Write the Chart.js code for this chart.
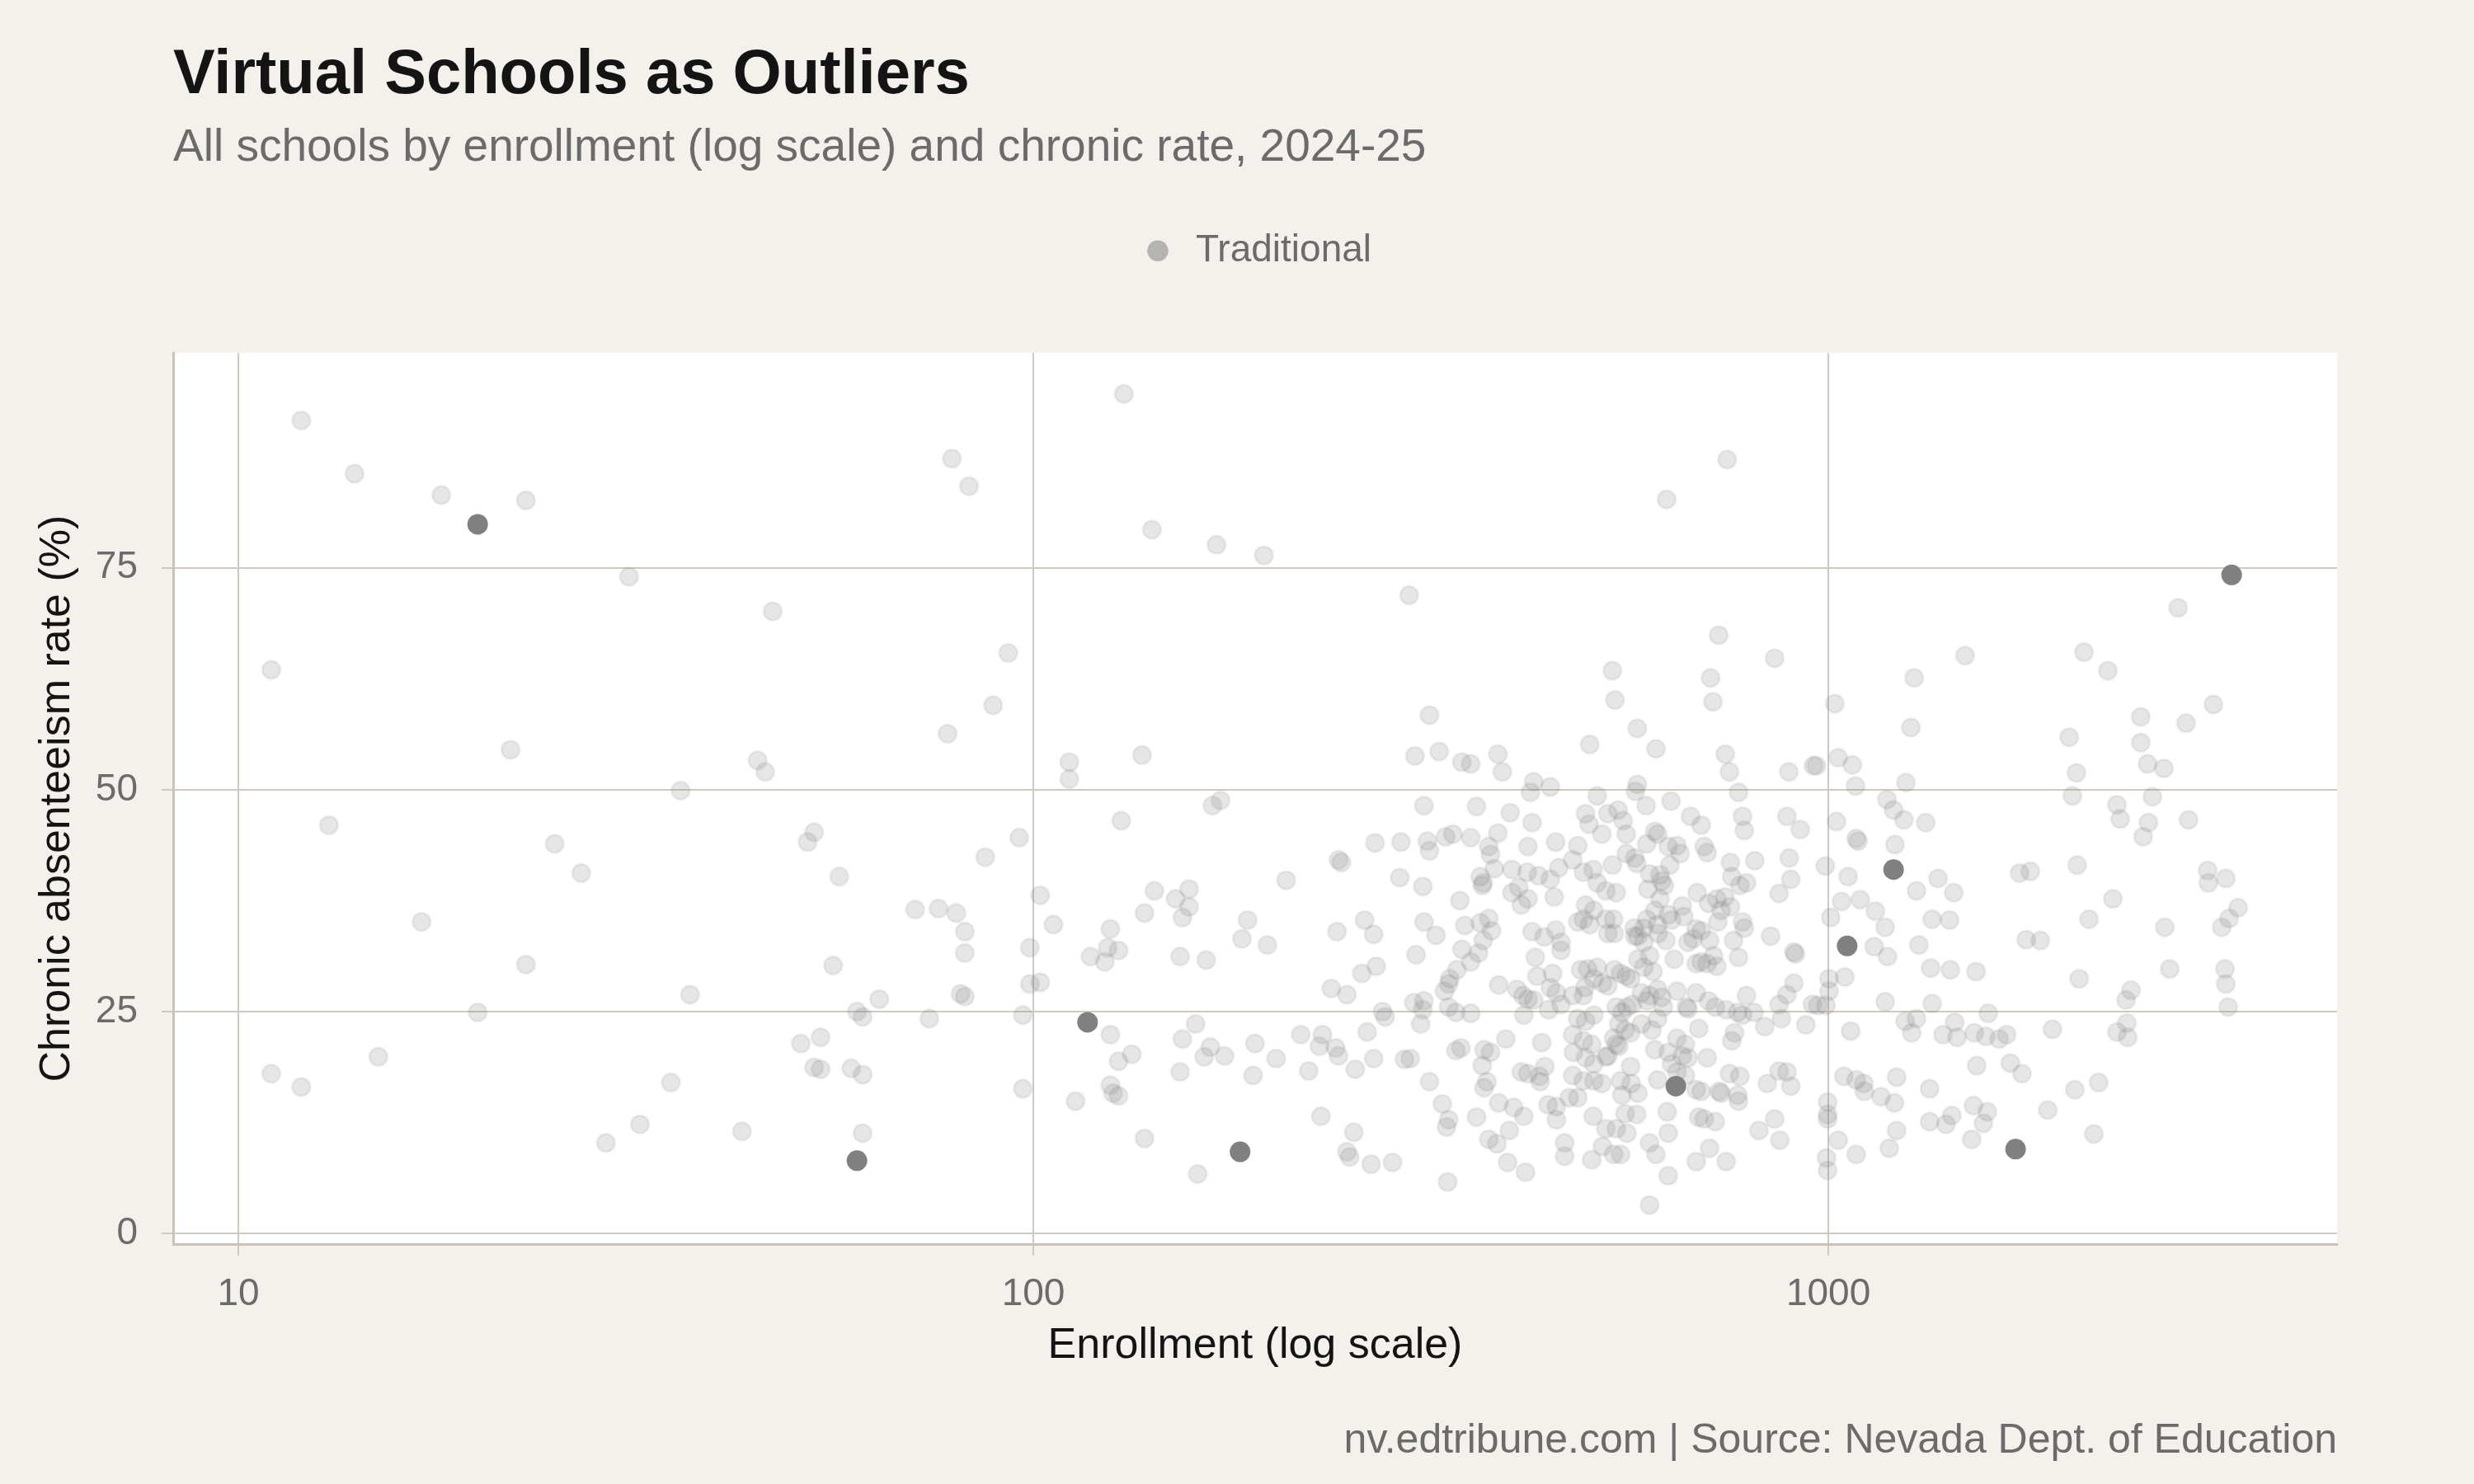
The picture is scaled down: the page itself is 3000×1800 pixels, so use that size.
<!DOCTYPE html>
<html>
<head>
<meta charset="utf-8">
<title>Virtual Schools as Outliers</title>
<script src="https://cdn.jsdelivr.net/npm/chart.js@4.4.1/dist/chart.umd.min.js"></script>
<style>
  html, body { margin: 0; padding: 0; background: #f4f1ec; }
  canvas { display: block; }
</style>
</head>
<body>
<canvas id="chart" width="3000" height="1800"></canvas>
<script>
// Virtual schools (highlighted, dark points)
const virtualEnrollment = [20, 60, 117, 182, 643, 1056, 1208, 1720, 3216];
const virtualRate = [79.9, 8.2, 23.8, 9.2, 16.6, 32.4, 41.0, 9.5, 74.2];

// Traditional schools (light points)
const tradEnrollment = [
  11, 11, 12, 12, 13, 14, 15, 17, 18, 20,
  22, 23, 23, 25, 27, 29, 31, 32, 35, 36,
  37, 43, 45, 46, 47, 51, 52, 53, 53, 54,
  54, 56, 57, 59, 60, 61, 61, 61, 64, 71,
  74, 76, 78, 79, 80, 82, 82, 81, 82, 83,
  87, 89, 93, 96, 97, 97, 99, 99, 102, 102,
  106, 111, 111, 113, 118, 123, 124, 125, 125, 125,
  126, 128, 128, 128, 129, 130, 133, 137, 138, 138,
  141, 142, 151, 153, 153, 154, 154, 157, 157, 160,
  161, 164, 165, 167, 168, 170, 172, 174, 183, 186,
  189, 190, 195, 197, 202, 208, 217, 222, 230, 231, 229,
  297, 315, 302, 324, 346, 355, 384, 389, 426, 422,
  447, 310, 361, 398, 424, 269, 290, 313, 315, 330,
  337, 355, 384, 374, 376, 419, 454, 242, 244, 289,
  309, 344, 365, 367, 368, 380, 400, 418, 432, 447,
  458, 400, 408, 411, 419, 452, 241, 261, 268, 310,
  321, 349, 365, 374, 377, 368, 346, 363, 355, 303,
  424, 439, 454, 461, 461, 428, 270, 259, 237, 248,
  341, 334, 333, 329, 385, 430, 450, 447, 455, 406,
  413, 419, 426, 301, 310, 309, 275, 277, 333, 340,
  355, 414, 445, 461, 263, 307, 240, 242, 268, 254,
  293, 298, 340, 345, 369, 376, 367, 393, 436, 315,
  372, 369, 411, 419, 440, 434, 433, 253, 327, 333,
  331, 361, 385, 402, 414, 444, 455, 397, 374, 383,
  455, 466, 466, 248, 250, 266, 283, 332, 395, 416,
  535, 539, 575, 501, 607, 512, 575, 572, 746, 626,
  728, 856, 711, 716, 742, 751, 771, 892, 958, 634,
  590, 495, 544, 528, 671, 780, 887, 500, 519, 552,
  557, 605, 610, 692, 784, 922, 698, 704, 753, 756,
  774, 789, 808, 893, 897, 867, 484, 477, 492, 506,
  512, 525, 541, 535, 557, 571, 574, 591, 629, 645,
  651, 632, 596, 614, 617, 622, 593, 614, 684, 707,
  724, 741, 753, 733, 726, 655, 658, 605, 629, 635,
  610, 591, 586, 571, 495, 507, 492, 484, 501, 525,
  537, 528, 538, 570, 576, 586, 611, 625, 682, 692,
  676, 666, 709, 760, 771, 784, 780, 846, 905, 909,
  640, 596, 602, 586, 576, 682, 692, 704, 724, 717,
  488, 498, 512, 507, 520, 528, 538, 548, 557, 564,
  494, 492, 477, 582, 596, 610, 617, 645, 682, 707,
  721, 789, 769, 744, 780, 806, 832, 873, 867, 887,
  905, 937, 955, 541, 550, 558, 567, 545, 555, 564,
  537, 541, 545, 528, 582, 600, 610, 620, 591, 663,
  666, 484, 495, 507, 477, 492, 504, 478, 495, 507,
  477, 492, 507, 519, 472, 484, 525, 605, 629, 645,
  661, 655, 666, 635, 645, 661, 704, 751, 774, 610,
  564, 548, 565, 576, 550, 682, 692, 729, 733, 769,
  771, 838, 867, 887, 897, 506, 555, 574, 525, 541,
  558, 520, 537, 548, 504, 627, 629, 687, 698, 721,
  596, 607, 682, 709, 744, 629, 596, 818, 856, 869,
  687, 762, 756,
  966, 1019, 1029, 1072, 1082, 1252, 1270, 1282, 1486, 2097,
  2247, 2472, 2818, 3051, 2754, 2009, 2472, 2521, 2643, 2052,
  1185, 1208, 2028, 2307, 2557, 1024, 1084, 1090, 1213, 1245,
  1326, 2329, 2527, 2839, 2489, 991, 1059, 1374, 1291, 1438,
  1039, 1097, 1146, 1007, 1179, 1351, 1421, 1740, 1795, 2056,
  2280, 2128, 3000, 3006, 3162, 2650, 3277, 3192, 3125, 1142,
  1187, 1300, 1774, 1848, 1345, 1424, 1534, 2068, 2688, 3155,
  3162, 3184, 2403, 2369, 1002, 1002, 993, 970, 1049, 1179,
  1351, 1589, 1914, 1249, 1291, 1273, 1067, 1442, 1394, 1452,
  1526, 1578, 1640, 1676, 2307, 2374, 2380, 1537, 1694, 1752,
  1046, 1084, 1108, 1110, 1165, 1211, 1219, 1341, 2042, 2188,
  998, 998, 998, 1523, 1585, 1567, 1341, 1406, 1430, 1888,
  1219, 1029, 995, 998, 1084, 1193, 1515, 2158
];
const tradRate = [
  63.5, 18.0, 91.6, 16.5, 46.0, 85.6, 19.9, 35.1, 83.2, 24.9,
  54.5, 82.6, 30.3, 43.9, 40.6, 10.2, 74.0, 12.3, 17.0, 49.9,
  26.9, 11.5, 53.3, 52.0, 70.1, 21.4, 44.1, 45.2, 18.7, 22.1,
  18.5, 30.2, 40.2, 18.6, 25.0, 24.4, 17.9, 11.3, 26.4, 36.5,
  24.2, 36.6, 56.3, 87.3, 36.1, 34.0, 31.6, 27.0, 26.7, 84.2,
  42.4, 59.5, 65.4, 44.6, 24.6, 16.3, 32.2, 28.1, 38.1, 28.3,
  34.8, 53.1, 51.2, 14.9, 31.2, 30.6, 32.2, 34.3, 22.4, 16.7,
  15.8, 31.9, 19.4, 15.5, 46.5, 94.6, 20.2, 53.9, 36.1, 10.7,
  79.3, 38.6, 37.7, 31.2, 18.2, 35.6, 21.9, 38.8, 36.8, 23.6,
  6.7, 19.9, 30.8, 21.0, 48.2, 77.6, 48.8, 20.0, 33.2, 35.3,
  17.8, 21.4, 76.4, 32.5, 19.7, 39.8, 22.4, 18.3, 13.2, 22.4, 21.1,
  71.9, 58.4, 53.8, 54.3, 53.1, 52.9, 54.0, 52.0, 50.9, 49.7,
  50.3, 48.2, 48.1, 47.4, 46.3, 44.0, 44.1, 44.2, 43.1, 44.7,
  45.0, 44.6, 45.1, 43.6, 42.7, 43.6, 44.1, 42.1, 41.8, 40.1,
  39.1, 37.5, 40.2, 39.2, 39.5, 41.1, 41.0, 40.7, 40.3, 39.9,
  41.2, 38.4, 39.0, 37.0, 37.7, 37.9, 34.0, 35.3, 33.7, 35.1,
  33.6, 34.7, 35.0, 35.5, 34.1, 33.0, 32.0, 31.6, 30.6, 31.4,
  34.0, 33.4, 34.2, 32.8, 31.9, 31.1, 30.1, 29.3, 27.6, 26.9,
  29.7, 28.7, 28.1, 27.3, 28.0, 29.0, 29.3, 27.7, 27.1, 27.5,
  26.8, 26.4, 26.3, 26.0, 26.2, 25.2, 25.0, 24.4, 25.5, 24.9,
  24.8, 24.6, 25.2, 25.8, 22.7, 23.6, 20.9, 20.0, 19.7, 18.5,
  19.6, 19.7, 20.6, 20.9, 20.7, 20.4, 18.9, 21.9, 21.5, 17.1,
  17.1, 16.4, 18.2, 18.0, 18.8, 17.1, 17.7, 11.4, 14.6, 12.8,
  12.0, 13.1, 14.7, 14.2, 13.2, 14.5, 14.3, 11.6, 10.6, 10.1,
  12.8, 10.2, 8.7, 9.2, 8.6, 7.8, 8.0, 5.8, 8.0, 6.9,
  63.4, 60.1, 56.9, 55.1, 54.6, 49.3, 50.6, 49.8, 87.2, 82.7,
  67.4, 64.8, 62.6, 59.9, 54.0, 52.0, 49.7, 52.0, 52.7, 48.7,
  48.2, 47.3, 47.7, 47.3, 47.0, 47.0, 47.0, 46.1, 45.0, 46.5,
  45.0, 45.3, 45.0, 46.0, 45.4, 45.5, 43.6, 42.9, 41.8, 40.2,
  39.2, 39.5, 42.0, 42.3, 39.9, 38.3, 43.7, 42.1, 40.7, 41.0,
  39.5, 38.6, 38.4, 41.5, 42.8, 42.3, 41.7, 43.9, 43.6, 43.7,
  42.8, 41.5, 40.5, 40.4, 39.7, 39.2, 38.8, 37.7, 38.4, 37.2,
  37.7, 37.9, 36.8, 36.4, 35.1, 36.9, 35.7, 36.4, 35.9, 35.3,
  34.8, 35.4, 34.4, 33.5, 37.0, 36.4, 35.4, 35.1, 34.8, 35.4,
  35.4, 33.8, 33.8, 34.4, 33.5, 32.8, 33.8, 33.0, 34.3, 34.1,
  33.2, 32.8, 33.0, 33.0, 31.1, 34.4, 35.1, 33.5, 31.7, 31.5,
  30.9, 31.3, 29.5, 30.0, 30.9, 30.4, 30.6, 30.4, 30.1, 31.3,
  29.7, 29.8, 30.0, 28.7, 28.2, 27.9, 29.7, 29.3, 29.0, 28.7,
  27.7, 26.8, 26.8, 27.1, 26.8, 27.5, 26.6, 27.3, 27.1, 26.2,
  25.5, 26.8, 24.9, 25.2, 24.6, 24.9, 23.3, 24.2, 25.8, 26.9,
  28.2, 23.5, 25.8, 25.5, 24.9, 25.5, 25.8, 23.6, 22.9, 22.6,
  22.0, 21.3, 21.1, 20.0, 23.6, 22.9, 24.2, 25.5, 26.2, 25.5,
  25.3, 24.2, 23.9, 24.6, 22.4, 21.7, 21.3, 20.4, 19.8, 19.1,
  17.8, 17.2, 17.2, 16.9, 15.3, 15.3, 19.9, 20.7, 20.4, 22.0,
  21.3, 20.0, 19.8, 19.1, 18.2, 17.8, 19.8, 18.0, 17.7, 17.3,
  18.8, 17.2, 16.9, 15.8, 15.6, 16.2, 16.0, 16.0, 15.8, 15.6,
  14.9, 16.9, 18.3, 18.2, 16.6, 13.2, 13.5, 13.4, 11.8, 11.8,
  11.3, 9.8, 8.9, 8.9, 8.3, 13.7, 11.3, 13.1, 12.9, 12.6,
  10.2, 8.9, 8.1, 9.6, 8.1, 6.5, 3.2, 11.6, 12.9, 10.5,
  23.1, 22.6, 21.7,
  52.7, 59.7, 53.6, 52.8, 50.4, 50.8, 57.0, 62.6, 65.1, 65.5,
  63.4, 58.2, 57.5, 59.6, 70.5, 55.9, 55.3, 52.9, 52.4, 51.9,
  48.9, 47.7, 49.3, 48.3, 49.2, 46.4, 44.5, 44.2, 43.8, 46.6,
  46.3, 46.7, 46.3, 46.6, 44.7, 41.4, 40.2, 40.0, 38.6, 38.4,
  37.4, 37.6, 36.3, 35.6, 34.5, 35.4, 35.3, 40.6, 40.8, 41.5,
  37.7, 35.4, 40.9, 39.5, 40.0, 34.5, 36.7, 35.5, 34.5, 32.3,
  31.2, 32.5, 33.1, 33.0, 29.9, 29.7, 29.5, 28.7, 29.8, 29.8,
  28.1, 25.5, 27.4, 26.3, 28.7, 27.3, 25.7, 25.7, 28.9, 26.1,
  25.9, 24.8, 23.0, 23.9, 24.2, 22.6, 22.8, 23.8, 22.4, 22.1,
  22.6, 22.2, 21.9, 22.4, 22.7, 23.7, 22.1, 18.9, 19.2, 18.0,
  17.7, 17.3, 16.9, 16.0, 15.4, 14.7, 17.6, 16.3, 16.2, 17.0,
  14.8, 13.4, 12.9, 14.4, 13.7, 12.4, 12.6, 12.3, 13.3, 13.9,
  11.6, 10.5, 8.5, 7.1, 8.9, 9.6, 10.6, 11.2
];

// Axis ticks
const xTicks = [10, 100, 1000];
const yTicks = [0, 25, 50, 75];

const pageBg = '#f4f1ec';
const gridColor = '#cfc9c0';
const axisColor = '#c9c2b8';
const mutedText = '#6b6b6b';
const darkText = '#141414';

Chart.defaults.font.family = '"Liberation Sans", Arial, Helvetica, sans-serif';

const tradPoints = tradEnrollment.map((x, i) => ({ x: x, y: tradRate[i] }));
const virtualPoints = virtualEnrollment.map((x, i) => ({ x: x, y: virtualRate[i] }));

// Page background, white panel and source caption
const backdrop = {
    id: 'backdrop',
    beforeDraw(chart) {
        const { ctx, chartArea } = chart;
        ctx.save();
        ctx.fillStyle = pageBg;
        ctx.fillRect(0, 0, chart.width, chart.height);
        ctx.fillStyle = '#ffffff';
        ctx.fillRect(chartArea.left, chartArea.top, chartArea.right - chartArea.left, chartArea.bottom - chartArea.top);
        ctx.restore();
    },
    afterDraw(chart) {
        const { ctx, chartArea } = chart;
        ctx.save();
        ctx.font = '50px ' + Chart.defaults.font.family;
        ctx.fillStyle = mutedText;
        ctx.textAlign = 'right';
        ctx.textBaseline = 'alphabetic';
        ctx.fillText('nv.edtribune.com | Source: Nevada Dept. of Education', chartArea.right, 1762);
        ctx.restore();
    }
};

new Chart(document.getElementById('chart'), {
    type: 'scatter',
    data: {
        datasets: [
            {
                label: 'Traditional',
                data: tradPoints,
                backgroundColor: 'rgba(128, 128, 128, 0.2)',
                borderColor: 'rgba(128, 128, 128, 0.1)',
                borderWidth: 3,
                pointRadius: 11,
                order: 2
            },
            {
                label: 'Virtual',
                data: virtualPoints,
                backgroundColor: '#808080',
                borderColor: '#808080',
                borderWidth: 0,
                pointRadius: 12.5,
                order: 1
            }
        ]
    },
    options: {
        responsive: false,
        animation: false,
        devicePixelRatio: 1,
        events: [],
        layout: { padding: { left: 0, right: 166, top: 0, bottom: 0 } },
        plugins: {
            title: {
                display: true,
                text: 'Virtual Schools as Outliers',
                align: 'start',
                fullSize: false,
                color: darkText,
                font: { size: 76, weight: 'bold' },
                padding: { top: 46, bottom: 0 }
            },
            subtitle: {
                display: true,
                text: 'All schools by enrollment (log scale) and chronic rate, 2024-25',
                align: 'start',
                fullSize: false,
                color: mutedText,
                font: { size: 55 },
                padding: { top: 10, bottom: 0 }
            },
            legend: {
                display: true,
                position: 'top',
                fullSize: false,
                labels: {
                    usePointStyle: true,
                    boxWidth: 46,
                    boxHeight: 18,
                    padding: 68,
                    color: mutedText,
                    font: { size: 46 },
                    generateLabels: () => [{
                        text: 'Traditional',
                        fillStyle: '#b4b4b2',
                        strokeStyle: '#b4b4b2',
                        lineWidth: 0,
                        pointStyle: 'circle',
                        fontColor: mutedText,
                        hidden: false,
                        datasetIndex: 0
                    }]
                }
            },
            tooltip: { enabled: false }
        },
        scales: {
            x: {
                type: 'logarithmic',
                position: 'bottom',
                min: 8.28,
                max: 4365,
                afterBuildTicks: axis => { axis.ticks = xTicks.map(v => ({ value: v })); },
                afterFit: axis => { axis.height = 291; },
                ticks: {
                    autoSkip: false,
                    maxRotation: 0,
                    padding: 20,
                    color: mutedText,
                    font: { size: 46 },
                    callback: value => String(value)
                },
                grid: { color: gridColor, lineWidth: 2, drawTicks: true, tickLength: 14, tickColor: gridColor, tickWidth: 2 },
                border: { display: true, color: axisColor, width: 3 },
                title: {
                    display: true,
                    text: 'Enrollment (log scale)',
                    color: darkText,
                    font: { size: 52 },
                    padding: { top: 0, bottom: 136 }
                }
            },
            y: {
                type: 'linear',
                position: 'left',
                min: -1.2,
                max: 99.2,
                afterBuildTicks: axis => { axis.ticks = yTicks.map(v => ({ value: v })); },
                afterFit: axis => { axis.width = 210; },
                ticks: {
                    padding: 29,
                    color: mutedText,
                    font: { size: 46 }
                },
                grid: { color: gridColor, lineWidth: 2, drawTicks: true, tickLength: 14, tickColor: gridColor, tickWidth: 2 },
                border: { display: true, color: axisColor, width: 3 },
                title: {
                    display: true,
                    text: 'Chronic absenteeism rate (%)',
                    color: darkText,
                    font: { size: 52 },
                    padding: { top: 38, bottom: 0 }
                }
            },
            // empty band between legend and panel
            gap: {
                type: 'linear',
                position: 'top',
                display: true,
                ticks: { display: false },
                grid: { display: false, drawTicks: false },
                border: { display: false },
                afterFit: axis => { axis.height = 91; }
            }
        }
    },
    plugins: [backdrop]
});
</script>
</body>
</html>
